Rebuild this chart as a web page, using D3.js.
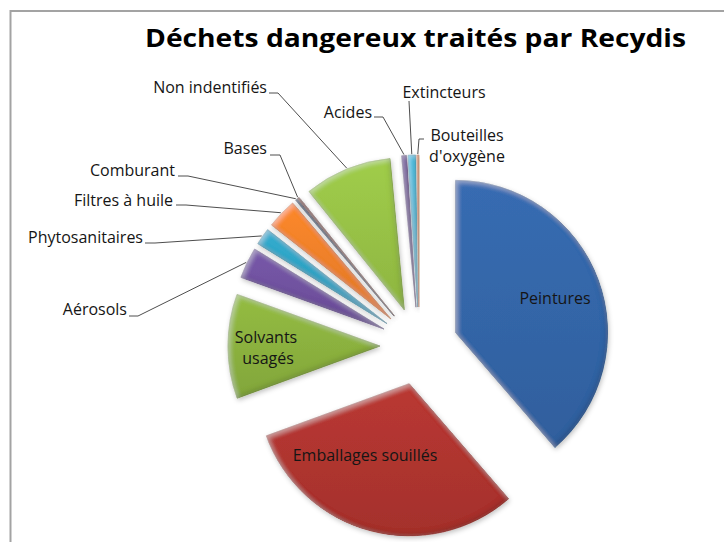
<!DOCTYPE html>
<html>
<head>
<meta charset="utf-8">
<script src="https://cdn.jsdelivr.net/npm/d3@7"></script>
<style>
  body { margin: 0; background: #fff; }
  svg { display: block; font-family: "Open Sans", sans-serif; }
</style>
</head>
<body>
<svg id="chart" width="724" height="542"></svg>
<script>
// data (share of the total, in %)
var categories = ["Peintures", "Emballages souillés", "Solvants usagés", "Aérosols", "Phytosanitaires",
  "Filtres à huile", "Comburant", "Bases", "Non indentifiés", "Acides", "Extincteurs", "Bouteilles d'oxygène"];
var values = [38.7, 30.8, 11.1, 3.3, 1.8, 3.2, 0.2, 0.2, 9.3, 0.5, 0.8, 0.2];
var palette = ["#3466a9", "#b0352f", "#8cb23f", "#7152a0", "#2fa3c4", "#f0812a",
  "#2c4d75", "#772c2a", "#98c246", "#6c4b98", "#3bb5d6", "#e8863a"];
var title = "Déchets dangereux traités par Recydis";

// label placement (layout only)
var inside = {
  "Peintures": [[555, 304]],
  "Emballages souillés": [[365, 461]],
  "Solvants usagés": [[266, 343, "Solvants"], [268, 364, "usagés"]]
};
// text x, baseline, anchor, tick [x1, y, x2]
var outside = {
  "Aérosols": {x: 127, y: 315, anchor: "end", tick: [129, 316, 138]},
  "Phytosanitaires": {x: 143, y: 243, anchor: "end", tick: [145, 243, 155]},
  "Filtres à huile": {x: 173, y: 206, anchor: "end", tick: [176, 205, 186]},
  "Comburant": {x: 175, y: 176, anchor: "end", tick: [178, 176, 188]},
  "Bases": {x: 267, y: 154, anchor: "end", tick: [270, 155, 280]},
  "Non indentifiés": {x: 267, y: 93, anchor: "end", tick: [269, 93, 278]},
  "Acides": {x: 372, y: 118, anchor: "end", tick: [374, 117, 383]},
  "Extincteurs": {x: 444, y: 98, anchor: "middle", tick: [409, 101, 409]},
  "Bouteilles d'oxygène": {x: 467, y: 141, anchor: "middle", tick: [424, 139, 419], lines: ["Bouteilles", "d'oxygène"]}
};

var svg = d3.select("#chart");
var cx = 419, cy = 346, radius = 152, explode = 39;

var data = categories.map(function(c, i) { return {name: c, value: values[i], color: palette[i]}; });

var defs = svg.append("defs");

// bevel + soft shadow, roughly like the office 3d style
var f = defs.append("filter").attr("id", "bevel")
  .attr("x", "-20%").attr("y", "-20%").attr("width", "140%").attr("height", "140%");
f.append("feGaussianBlur").attr("in", "SourceAlpha").attr("stdDeviation", 2.5).attr("result", "blur");
f.append("feOffset").attr("in", "blur").attr("dx", 2).attr("dy", 2).attr("result", "offDown");
f.append("feComposite").attr("in", "SourceAlpha").attr("in2", "offDown").attr("operator", "arithmetic")
  .attr("k1", 0).attr("k2", 1).attr("k3", -1).attr("k4", 0).attr("result", "hl");
f.append("feFlood").attr("flood-color", "#fff").attr("flood-opacity", 0.35).attr("result", "white");
f.append("feComposite").attr("in", "white").attr("in2", "hl").attr("operator", "in").attr("result", "hlc");
f.append("feOffset").attr("in", "blur").attr("dx", -2).attr("dy", -2).attr("result", "offUp");
f.append("feComposite").attr("in", "SourceAlpha").attr("in2", "offUp").attr("operator", "arithmetic")
  .attr("k1", 0).attr("k2", 1).attr("k3", -1).attr("k4", 0).attr("result", "sh");
f.append("feFlood").attr("flood-color", "#000").attr("flood-opacity", 0.3).attr("result", "black");
f.append("feComposite").attr("in", "black").attr("in2", "sh").attr("operator", "in").attr("result", "shc");
f.append("feGaussianBlur").attr("in", "SourceAlpha").attr("stdDeviation", 2.5).attr("result", "sblur");
f.append("feOffset").attr("in", "sblur").attr("dx", 1).attr("dy", 2).attr("result", "soff");
f.append("feFlood").attr("flood-color", "#000").attr("flood-opacity", 0.25).attr("result", "sflood");
f.append("feComposite").attr("in", "sflood").attr("in2", "soff").attr("operator", "in").attr("result", "shadow");
var merge = f.append("feMerge");
["shadow", "SourceGraphic", "hlc", "shc"].forEach(function(r) { merge.append("feMergeNode").attr("in", r); });

data.forEach(function(d, i) {
  var g = defs.append("linearGradient").attr("id", "grad" + i)
    .attr("x1", 0).attr("y1", 0).attr("x2", 0).attr("y2", 1);
  g.append("stop").attr("offset", "0%").attr("stop-color", d3.color(d.color).brighter(0.15));
  g.append("stop").attr("offset", "100%").attr("stop-color", d3.color(d.color).darker(0.2));
});

// frame
svg.append("rect").attr("x", 10.5).attr("y", 11).attr("width", 760).attr("height", 600)
  .attr("fill", "#fff").attr("stroke", "#a3a3a3").attr("stroke-width", 2);

svg.append("text").attr("x", 415.5).attr("y", 47).attr("text-anchor", "middle")
  .attr("font-size", 25).attr("font-weight", "bold").attr("fill", "#000")
  .attr("textLength", 541).attr("lengthAdjust", "spacingAndGlyphs")
  .text(title);

var pie = d3.pie().sort(null).value(function(d) { return d.value; });
var arc = d3.arc().innerRadius(0).outerRadius(radius);
var arcs = pie(data);

function mid(a) { return (a.startAngle + a.endAngle) / 2; }
function dir(a) { var m = mid(a); return [Math.sin(m), -Math.cos(m)]; }

var chart = svg.append("g").attr("transform", "translate(" + cx + "," + cy + ")");

chart.selectAll("path.slice")
  .data(arcs)
  .enter()
  .append("path")
  .attr("class", "slice")
  .attr("transform", function(a) { var v = dir(a); return "translate(" + v[0] * explode + "," + v[1] * explode + ")"; })
  .attr("d", arc)
  .attr("fill", function(a, i) { return "url(#grad" + i + ")"; })
  .attr("stroke", function(a) { return d3.color(a.data.color).darker(0.6); })
  .attr("stroke-width", 0.6)
  .attr("filter", "url(#bevel)");

// inside labels
arcs.forEach(function(a) {
  var lab = inside[a.data.name];
  if (!lab) return;
  lab.forEach(function(p) {
    svg.append("text").attr("x", p[0]).attr("y", p[1]).attr("text-anchor", "middle")
      .attr("font-size", 16).attr("fill", "#151515")
      .text(p[2] || a.data.name);
  });
});

// outside labels with leader lines
arcs.forEach(function(a) {
  var lab = outside[a.data.name];
  if (!lab) return;
  var v = dir(a);
  var px = cx + v[0] * (explode + radius + 1), py = cy + v[1] * (explode + radius + 1);
  svg.append("polyline")
    .attr("points", [[lab.tick[0], lab.tick[1]], [lab.tick[2], lab.tick[1]], [px, py]].map(function(p) { return p.join(","); }).join(" "))
    .attr("fill", "none").attr("stroke", "#3a3a3a").attr("stroke-width", 0.9);
  var lines = lab.lines || [a.data.name];
  lines.forEach(function(t, j) {
    svg.append("text").attr("x", lab.x).attr("y", lab.y + j * 21)
      .attr("text-anchor", lab.anchor).attr("font-size", 16).attr("fill", "#151515")
      .text(t);
  });
});
</script>
</body>
</html>
